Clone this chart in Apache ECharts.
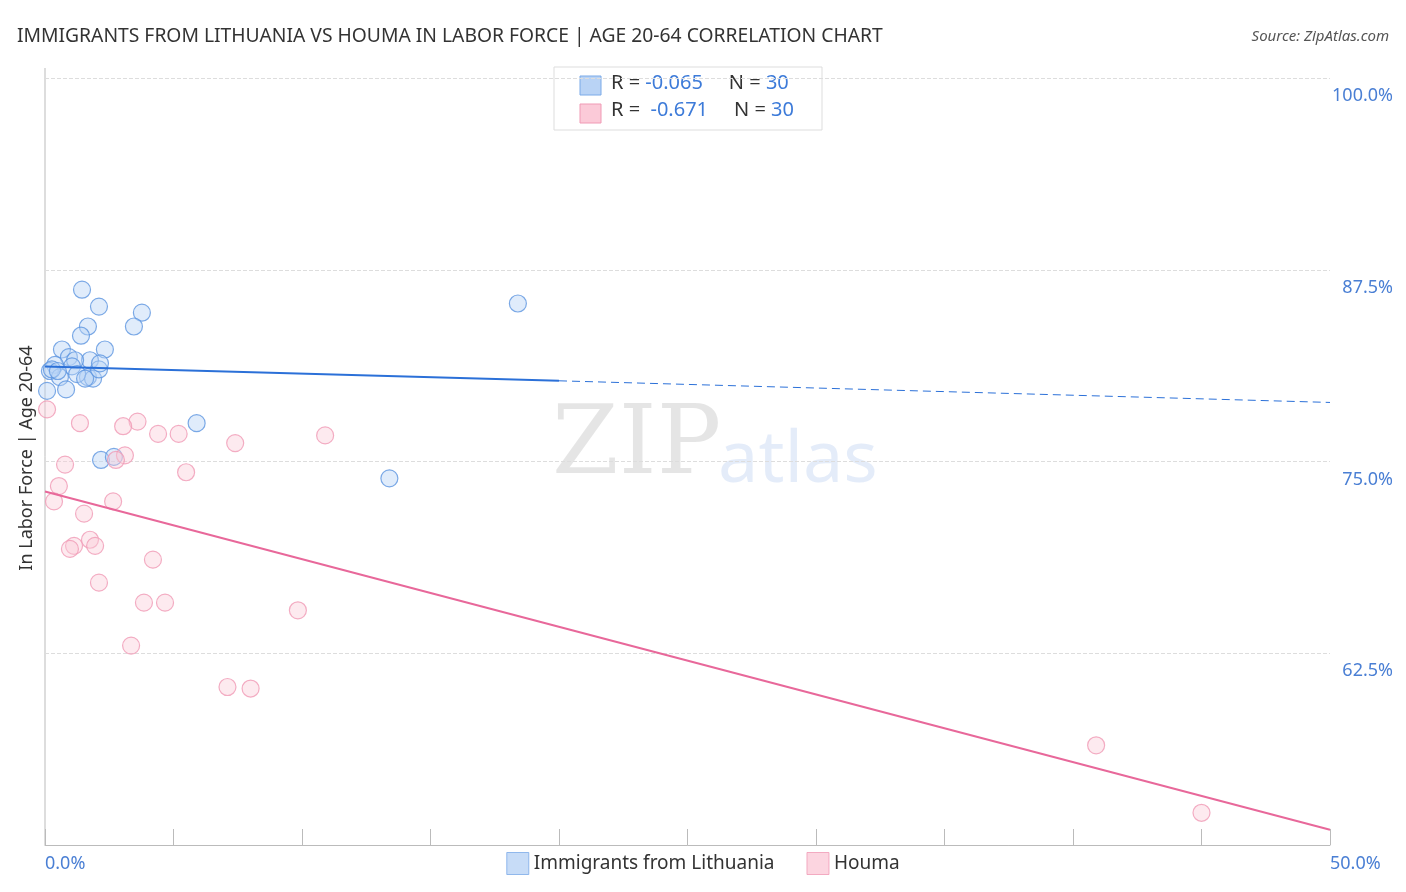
<!DOCTYPE html>
<html>
<head>
<meta charset="utf-8">
<script src="https://cdn.jsdelivr.net/npm/echarts@6/dist/echarts.min.js"></script>
<style>html,body{margin:0;padding:0;background:#fff}#main{width:1406px;height:892px}</style>
</head>
<body>
<div id="main"></div>
<script>
// 数据
const lithuania = [
  [1.44,86.2],[2.1,85.1],[3.77,84.7],[18.4,85.3],[1.67,83.8],[3.46,83.8],[1.4,83.2],
  [0.66,82.3],[2.33,82.3],[0.93,81.8],[1.75,81.6],[1.17,81.6],[0.39,81.3],[0.19,80.9],
  [1.05,81.2],[0.58,80.5],[1.67,80.5],[1.87,80.4],[1.25,80.7],[0.82,79.7],[0.08,79.6],
  [5.9,77.5],[2.18,75.1],[2.68,75.3],[13.4,73.9],[2.1,81.0],[0.27,81.0],[1.56,80.4],
  [2.14,81.4],[0.5,80.9]
]
const houma = [
  [0.08,78.4],[1.36,77.5],[3.6,77.6],[3.04,77.3],[4.4,76.8],[5.2,76.8],[10.9,76.7],
  [7.4,76.2],[3.11,75.4],[2.76,75.1],[0.78,74.8],[5.49,74.3],[0.54,73.4],[0.35,72.4],
  [2.65,72.4],[1.52,71.6],[1.75,69.9],[1.95,69.5],[1.13,69.5],[0.97,69.3],[4.2,68.6],
  [2.1,67.1],[3.85,65.8],[4.67,65.8],[9.84,65.3],[3.35,63.0],[7.1,60.3],[8.0,60.2],
  [40.9,56.5],[45.0,52.1]
]
// 趋势线
const blueSolid = [[0,81.2],[20,80.26]]
const blueDash = [[20,80.26],[50,78.85]]
const pinkTrend = [[0,73.05],[50,51.0]]

const myChart = echarts.init(document.querySelector('#main'))
const rich = {a:{fontSize:20,fill:'#333',fontFamily:'Noto Sans'},b:{fontSize:20,fill:'#3d7bd9',fontFamily:'Noto Sans'}}
const option = {
  animation:false,
  title:[
    {text:'IMMIGRANTS FROM LITHUANIA VS HOUMA IN LABOR FORCE | AGE 20-64 CORRELATION CHART',left:12,top:22,
     textStyle:{fontSize:19.3,fontWeight:'normal',color:'#333',fontFamily:'Noto Sans'}},
    {text:'Source: ZipAtlas.com',right:12,top:24,
     textStyle:{fontSize:15,fontWeight:'normal',fontStyle:'italic',color:'#555',fontFamily:'Noto Sans'}}
  ],
  legend:{
    bottom:12,left:'center',itemWidth:22,itemHeight:22,itemGap:32,
    textStyle:{fontSize:19,color:'#333',fontFamily:'Noto Sans'},
    data:[
      {name:'Immigrants from Lithuania',icon:'rect',itemStyle:{color:'#b9d3f5',borderColor:'#7aaae8',borderWidth:1}},
      {name:'Houma',icon:'rect',itemStyle:{color:'#fbcad8',borderColor:'#f09ab5',borderWidth:1}}
    ]
  },
  grid:{left:45,right:76,top:78,bottom:47,outerBoundsMode:'none',containLabel:false},
  xAxis:{
    type:'value',min:0,max:50,interval:5,
    axisLine:{lineStyle:{color:'#bbb'}},
    axisTick:{inside:true,length:16,lineStyle:{color:'#bbb'}},
    splitLine:{show:false},
    axisLabel:{
      formatter:v=>(v===0||v===50)?v.toFixed(1)+'%':'',
      color:'#4a7fd4',fontSize:18,fontFamily:'Noto Sans',margin:10,
      alignMinLabel:'left',alignMaxLabel:'left'
    }
  },
  yAxis:{
    type:'value',min:50,max:100,interval:12.5,position:'right',
    axisLine:{show:false},axisTick:{show:false},
    splitLine:{lineStyle:{type:'dashed',color:'#ddd'}},
    axisLabel:{
      formatter:v=>v===50?'':v.toFixed(1)+'%',
      align:'right',margin:63,verticalAlign:'top',padding:[9,0,0,0],
      color:'#4a7fd4',fontSize:18,fontFamily:'Noto Sans'
    }
  },
  graphic:[
    {type:'line',shape:{x1:45,y1:68,x2:45,y2:845},style:{stroke:'#bbb',lineWidth:1}},
    {type:'text',x:36,y:458,rotation:Math.PI/2,style:{text:'In Labor Force | Age 20-64',fontSize:18,fill:'#333',fontFamily:'Noto Sans',align:'center',verticalAlign:'bottom'}},
    {type:'text',left:552,top:400,style:{text:'ZIP',fontSize:96,fontFamily:'DejaVu Serif',fill:'rgba(0,0,0,0.1)'}},
    {type:'text',left:718,top:425,style:{text:'atlas',fontSize:72,fontFamily:'Noto Sans',fill:'rgba(74,127,212,0.15)'}},
    {type:'rect',shape:{x:554,y:67,width:268,height:63},style:{fill:'#fff',stroke:'#ddd',lineWidth:1}},
    {type:'rect',shape:{x:580,y:76,width:21,height:19},style:{fill:'#b9d3f5',stroke:'#7aaae8'}},
    {type:'rect',shape:{x:580,y:104,width:21,height:19},style:{fill:'#fbcad8',stroke:'#f09ab5'}},
    {type:'text',left:611,top:73,style:{rich,text:'{a|R = }{b|-0.065}{a|     N = }{b|30}'}},
    {type:'text',left:611,top:100,style:{rich,text:'{a|R =  }{b|-0.671}{a|     N = }{b|30}'}}
  ],
  series:[
    {name:'Immigrants from Lithuania',type:'scatter',data:lithuania,symbolSize:17,
     itemStyle:{color:'rgba(185,211,245,0.55)',borderColor:'#5d95e0',borderWidth:1.2},z:3},
    {name:'Houma',type:'scatter',data:houma,symbolSize:17,
     itemStyle:{color:'rgba(251,202,216,0.5)',borderColor:'#f09ab5',borderWidth:1.2},z:3},
    {type:'line',data:blueSolid,showSymbol:false,lineStyle:{color:'#2b70d8',width:2},z:4},
    {type:'line',data:blueDash,showSymbol:false,lineStyle:{color:'#2b70d8',width:1,type:[8,5]},z:4},
    {type:'line',data:pinkTrend,showSymbol:false,lineStyle:{color:'#e8689a',width:2},z:4}
  ]
}
myChart.setOption(option)
</script>
</body>
</html>
